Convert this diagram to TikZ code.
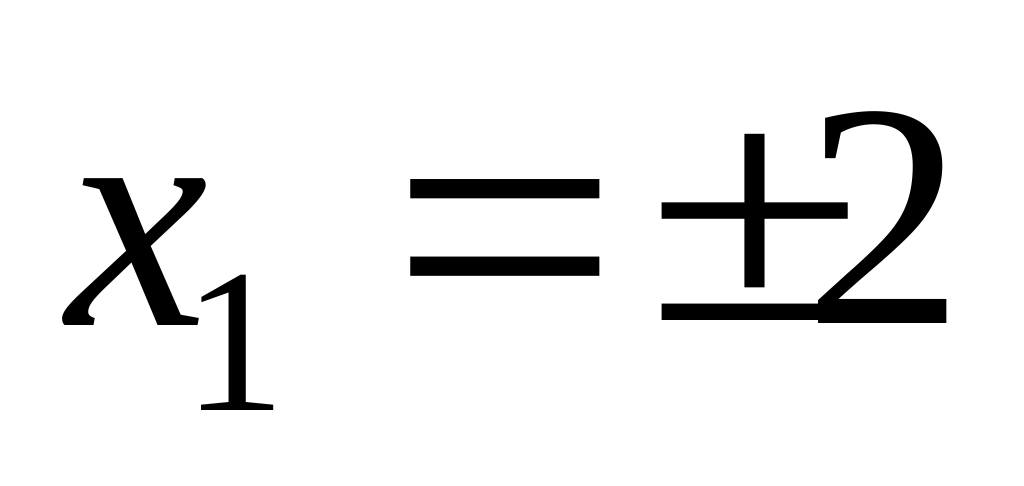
\documentclass[tikz,border=0pt]{standalone}
\usepackage{graphicx}
\usepackage{fontspec}
\setmainfont{Liberation Serif}
\usetikzlibrary{positioning}

\begin{document}
\begin{tikzpicture}[
			x=1pt, y=1pt,
			sym/.style={
				inner sep=0pt,
				anchor=base,
				font=\fontsize{320}{320}\selectfont
			},
			idx/.style={
				inner sep=0pt,
				anchor=base,
				font=\fontsize{205}{205}\selectfont
			}
			]
			% page and margins
			\useasboundingbox[fill=white] (0,0) rectangle (1024,485);
			
			% the symbols, on one baseline
			\node [sym] (var) at (138,160) {\itshape x};
			\node [idx] (sub) at (235,75) {1};
			\node [sym] (eq) at (505,129) {\scalebox{1.27}[1.21]{=}};
			\node [sym] (pm) at (755,165) {\scalebox{1.25}[1.03]{±}};
			\node [sym] (two) at (884,162) {2};
			
\end{tikzpicture}
\end{document}
